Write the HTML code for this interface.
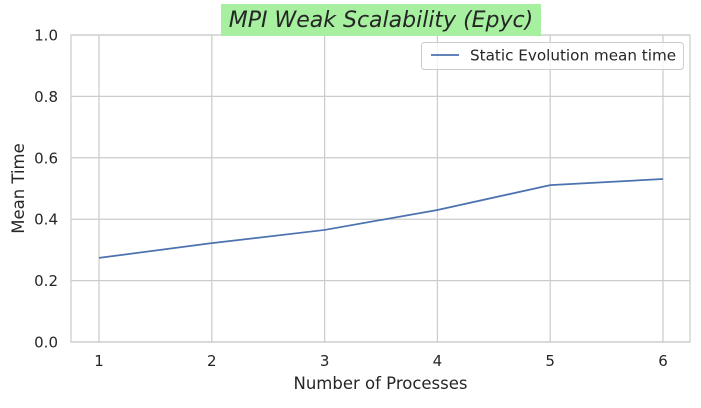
<!DOCTYPE html>
<html><head><meta charset="utf-8"><style>
body{margin:0;background:#fff;font-family:"DejaVu Sans","Liberation Sans",sans-serif;}
svg text{fill:#262626;font-family:"DejaVu Sans","Liberation Sans",sans-serif;}
</style></head><body>
<svg id="chart" width="701" height="404" viewBox="0 0 701 404" xmlns="http://www.w3.org/2000/svg">
<rect x="0" y="0" width="701" height="404" fill="#fff"/>
<g id="grid"></g>
<rect x="71" y="35" width="619" height="307" fill="none" stroke="#cccccc" stroke-width="1.25"/>
<g id="xticks"></g>
<g id="yticks"></g>
<path id="line" fill="none" stroke="#4c72b0" stroke-width="1.75"/>
<text x="380.5" y="389" font-size="16.5" text-anchor="middle">Number of Processes</text>
<text x="0" y="0" font-size="16.5" text-anchor="middle" transform="translate(24,188.5) rotate(-90)">Mean Time</text>
<rect x="221" y="4" width="320" height="32" fill="#a6f0a0"/>
<text x="381" y="27" font-size="22" font-style="italic" text-anchor="middle">MPI Weak Scalability (Epyc)</text>
<g>
<rect x="421.5" y="42.5" width="262" height="27" rx="3" fill="#fff" fill-opacity="0.8" stroke="#cccccc"/>
<line x1="431" y1="55" x2="459" y2="55" stroke="#4c72b0" stroke-width="1.75"/>
<text x="470" y="60.5" font-size="15.2">Static Evolution mean time</text>
</g>
</svg>
<script>
const processes=[1,2,3,4,5,6];
const meanTimes=[0.274,0.322,0.365,0.430,0.511,0.531];
const yTickValues=[0,0.2,0.4,0.6,0.8,1.0];
const yTickLabels=["0.0","0.2","0.4","0.6","0.8","1.0"];
const NS="http://www.w3.org/2000/svg";
const L=71,R=690,T=35,B=342;
const xs=v=>99+(v-1)*(663-99)/5;
const ys=v=>B-v*(B-T);
const grid=document.getElementById('grid'),xt=document.getElementById('xticks'),yt=document.getElementById('yticks');
function mk(tag,attrs,parent){const e=document.createElementNS(NS,tag);for(const k in attrs)e.setAttribute(k,attrs[k]);parent.appendChild(e);return e;}
processes.forEach(p=>{
 const g=mk('line',{x1:xs(p),x2:xs(p),y1:T,y2:B,stroke:'#cccccc','stroke-width':1.25},grid);
 
 
 const t=mk('text',{x:xs(p),y:B+24,'font-size':15,'text-anchor':'middle'},xt);t.textContent=p;
 
 
});
yTickValues.forEach((v,i)=>{
 const g=mk('line',{x1:L,x2:R,y1:ys(v),y2:ys(v),stroke:'#cccccc','stroke-width':1.25},grid);
 
 
 const t=mk('text',{x:L-13,y:ys(v)+5.5,'font-size':15,'text-anchor':'end'},yt);t.textContent=yTickLabels[i];
 
 
});
document.getElementById('line').setAttribute('d',processes.map((p,i)=>(i?'L':'M')+xs(p)+','+ys(meanTimes[i])).join(' '));
</script>
</body></html>
